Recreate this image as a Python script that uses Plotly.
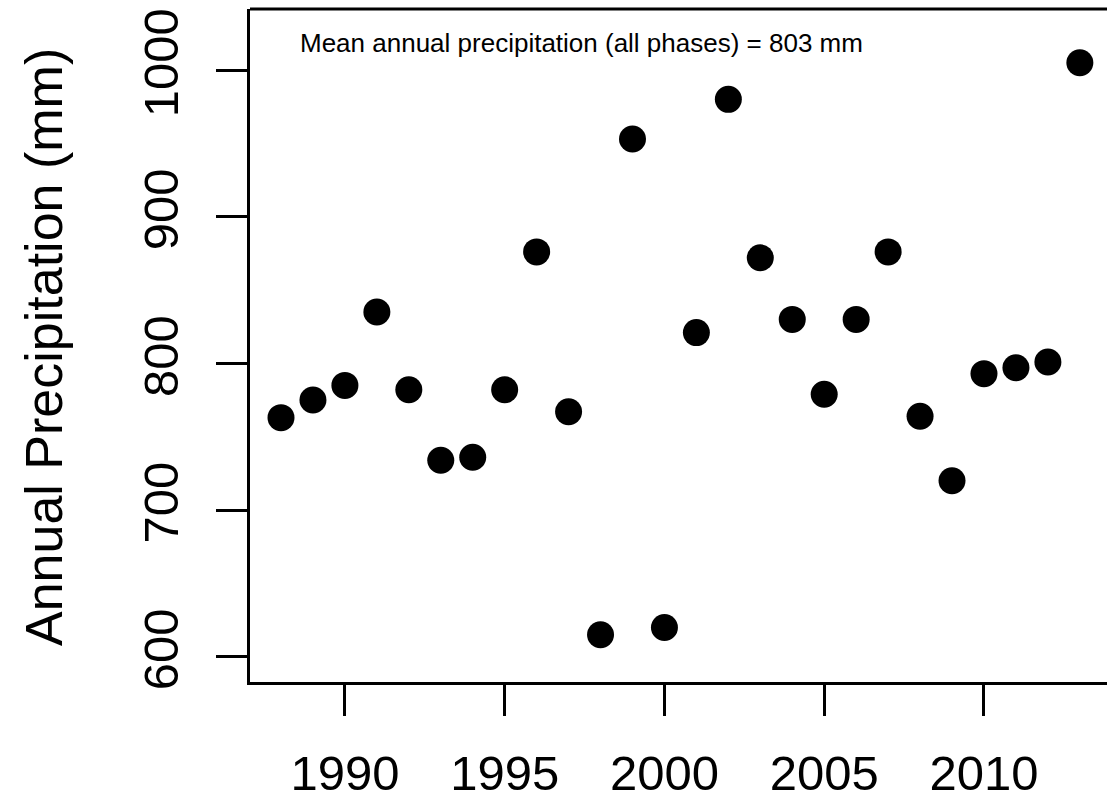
import plotly.graph_objects as go

# Annual precipitation by year
years = [1988, 1989, 1990, 1991, 1992, 1993, 1994, 1995, 1996, 1997, 1998, 1999, 2000,
         2001, 2002, 2003, 2004, 2005, 2006, 2007, 2008, 2009, 2010, 2011, 2012, 2013]
precip_mm = [763, 775, 785, 835, 782, 734, 736, 782, 876, 767, 615, 953, 620,
             821, 980, 872, 830, 779, 830, 876, 764, 720, 793, 797, 801, 1005]

x_ticks = [1990, 1995, 2000, 2005, 2010]
y_ticks = [600, 700, 800, 900, 1000]
mean_label = "Mean annual precipitation (all phases) = 803 mm"
y_title = "Annual Precipitation (mm)"

font_family = "Liberation Sans, Arial, sans-serif"

fig = go.Figure()
fig.add_trace(go.Scatter(
    x=years, y=precip_mm, mode="markers",
    marker=dict(size=27, color="black", line=dict(width=0)),
    hoverinfo="x+y", showlegend=False,
))

fig.update_layout(
    width=1107, height=802,
    margin=dict(l=250, r=0, t=9, b=120, autoexpand=False),
    paper_bgcolor="white", plot_bgcolor="white",
    font=dict(family=font_family, color="black"),
    showlegend=False,
)

fig.update_xaxes(
    range=[1987.03, 2013.85],
    tickvals=x_ticks, ticktext=[str(v) for v in x_ticks],
    ticks="outside", ticklen=31, tickwidth=3, tickcolor="black",
    showline=True, linewidth=3, linecolor="black",
    showgrid=False, zeroline=False, automargin=False,
    tickfont=dict(size=49, family=font_family, color="black"),
    ticklabelstandoff=15,
)
fig.update_yaxes(
    range=[582.8, 1041.6],
    tickvals=y_ticks, ticktext=[str(v) for v in y_ticks],
    ticks="outside", ticklen=31, tickwidth=3, tickcolor="black",
    showline=True, linewidth=3, linecolor="black",
    showgrid=False, zeroline=False, automargin=False,
    tickangle=-90,
    tickfont=dict(size=49, family=font_family, color="black"),
    ticklabelstandoff=18,
)

# top border of the plotting box
fig.add_shape(type="line", xref="paper", yref="paper", x0=0, x1=1, y0=1, y1=1,
              line=dict(color="black", width=3))

fig.add_annotation(
    text=mean_label, xref="paper", yref="paper",
    x=(298 - 250) / 857, y=(682 - 43) / 673,
    xanchor="left", yanchor="middle", showarrow=False,
    font=dict(size=26, family=font_family, color="black"),
)

fig.add_annotation(
    text=y_title, xref="paper", yref="paper",
    x=(44 - 250) / 857, y=(682 - 347) / 673, textangle=-90,
    xanchor="center", yanchor="middle", showarrow=False,
    font=dict(size=52, family=font_family, color="black"),
)

fig.write_html("out.html")
